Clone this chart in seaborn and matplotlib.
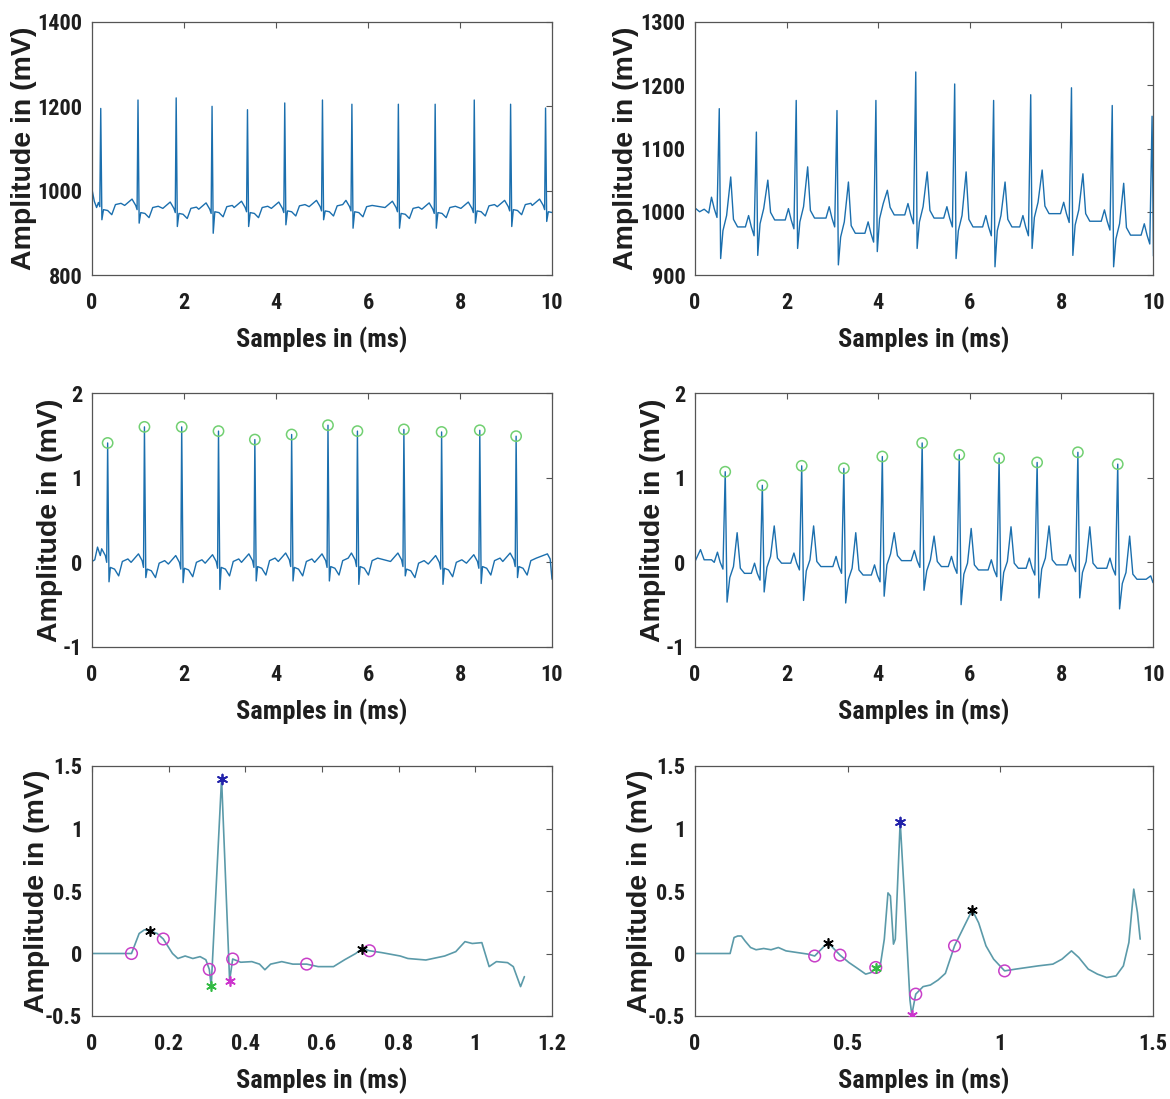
import numpy as np
import matplotlib
matplotlib.use("Agg")
import matplotlib.pyplot as plt
import seaborn as sns
import pandas as pd
from matplotlib import font_manager
from matplotlib.ticker import FuncFormatter

# ---------------- data ----------------
# Panel (1,1): raw ECG record A (mV, 800-1400)
P1_R_TIMES = [0.19, 1.00, 1.83, 2.61, 3.38, 4.19, 5.01, 5.65, 6.66, 7.46, 8.31, 9.10, 9.86]
P1_R_VALS = [1195, 1215, 1220, 1200, 1192, 1208, 1215, 1205, 1205, 1205, 1215, 1205, 1196]
P1_S_VALS = [931, 923, 915, 899, 915, 919, 931, 911, 911, 911, 923, 915, 927]
P1_BASE = [962, 955, 948, 946, 950, 948, 952, 952, 950, 946, 948, 952, 955, 950]
P1_START_T = [0.00, 0.05, 0.10]
P1_START_V = [1003, 975, 960]
P1_PRE_DT = [-0.29, -0.13, -0.05, -0.02]
P1_PRE_DV = [10, 25, 10, 0]
P1_POST_DT = [0.06, 0.15, 0.24, 0.32, 0.44]
P1_POST_DV = [0, -2, -12, 12, 15]

# Panel (1,2): raw ECG record B (mV, 900-1300)
P2_R_TIMES = [0.53, 1.34, 2.21, 3.10, 3.95, 4.82, 5.67, 6.52, 7.33, 8.22, 9.11, 9.98]
P2_R_VALS = [1163, 1126, 1176, 1160, 1176, 1221, 1202, 1176, 1185, 1196, 1168, 1151]
P2_S_VALS = [926, 931, 942, 916, 937, 942, 926, 913, 942, 931, 913, 930]
P2_T_VALS = [1055, 1050, 1071, 1047, 1034, 1063, 1063, 1047, 1066, 1060, 1045, 1040]
P2_BASE = [1005, 976, 987, 990, 966, 995, 990, 976, 976, 997, 985, 963, 960]
P2_START_T = [0.00, 0.10, 0.20, 0.30]
P2_START_V = [1006, 1000, 1004, 998]
P2_PRE_DT = [-0.24, -0.17, -0.11, -0.05]
P2_PRE_DV = [0, 18, 0, -14]
P2_POST_DT = [0.08, 0.16, 0.25, 0.31, 0.40]
P2_POST_DV = [-6, 18, None, 12, 0]

# Panel (2,1): filtered record A with detected R peaks
P3_R_TIMES = [0.34, 1.14, 1.95, 2.75, 3.54, 4.34, 5.13, 5.77, 6.78, 7.60, 8.43, 9.22]
P3_R_VALS = [1.41, 1.60, 1.60, 1.55, 1.45, 1.51, 1.62, 1.55, 1.57, 1.54, 1.56, 1.49]
P3_S_VALS = [-0.23, -0.18, -0.24, -0.32, -0.22, -0.22, -0.22, -0.26, -0.16, -0.26, -0.25, -0.18]
P3_BASE = [0.0, -0.06, -0.08, -0.07, -0.06, -0.05, -0.06, -0.05, -0.05, -0.08, -0.07, -0.05, -0.05]
P3_START_T = [0.00, 0.06, 0.12, 0.18]
P3_START_V = [0.01, 0.03, 0.18, 0.08]
P3_PRE_DT = [-0.29, -0.13, -0.05, -0.02]
P3_PRE_DV = [0.06, 0.16, 0.08, 0.0]
P3_POST_DT = [0.06, 0.15, 0.24, 0.32, 0.44]
P3_POST_DV = [0.0, -0.02, -0.10, 0.07, 0.10]
P3_END_T = [9.90, 9.96, 10.0]
P3_END_V = [0.10, 0.04, -0.20]

# Panel (2,2): filtered record B with detected R peaks
P4_R_TIMES = [0.66, 1.47, 2.33, 3.25, 4.09, 4.96, 5.77, 6.64, 7.47, 8.36, 9.23]
P4_R_VALS = [1.07, 0.91, 1.14, 1.11, 1.25, 1.41, 1.27, 1.23, 1.18, 1.30, 1.16]
P4_S_VALS = [-0.47, -0.35, -0.45, -0.48, -0.40, -0.33, -0.50, -0.45, -0.42, -0.42, -0.55]
P4_T_VALS = [0.35, 0.43, 0.43, 0.35, 0.35, 0.31, 0.40, 0.42, 0.43, 0.42, 0.31]
P4_BASE = [0.0, -0.13, -0.01, -0.05, -0.15, 0.02, -0.05, -0.09, -0.07, -0.03, -0.07, -0.20]
P4_START_T = [0.00, 0.12, 0.20, 0.36]
P4_START_V = [0.01, 0.15, 0.03, 0.03]
P4_PRE_DT = [-0.24, -0.17, -0.11, -0.05]
P4_PRE_DV = [0.0, 0.12, 0.0, -0.08]
P4_POST_DT = [0.10, 0.18, 0.26, 0.33, 0.42]
P4_POST_DV = [-0.05, 0.08, None, 0.06, 0.0]
P4_END_T = [9.85, 9.95, 10.0]
P4_END_V = [-0.20, -0.16, -0.24]

# Panel (3,1): one beat of record A with fiducial points
P5_T = [0.0, 0.103, 0.123, 0.137, 0.152, 0.170, 0.186, 0.21, 0.224, 0.243, 0.263, 0.282, 0.297,
        0.306, 0.311, 0.338, 0.359, 0.367, 0.388, 0.417, 0.437, 0.451, 0.466, 0.495, 0.524,
        0.56, 0.59, 0.63, 0.659, 0.688, 0.705, 0.724, 0.756, 0.804, 0.824, 0.871, 0.92,
        0.949, 0.973, 0.992, 1.017, 1.036, 1.055, 1.084, 1.099, 1.118, 1.128]
P5_V = [0.0, 0.0, 0.16, 0.19, 0.18, 0.16, 0.116, 0.0, -0.04, -0.02, -0.04, -0.025, -0.05,
        -0.127, -0.26, 1.40, -0.217, -0.044, -0.07, -0.065, -0.085, -0.13, -0.085, -0.065, -0.085,
        -0.085, -0.105, -0.105, -0.05, 0.0, 0.04, 0.022, 0.007, -0.02, -0.04, -0.052, -0.02,
        0.015, 0.095, 0.08, 0.087, -0.105, -0.065, -0.073, -0.105, -0.265, -0.185]
P5_ONOFF_T = [0.103, 0.186, 0.306, 0.367, 0.56, 0.724]
P5_ONOFF_V = [0.0, 0.116, -0.127, -0.044, -0.085, 0.022]
P5_PT_T = [0.152, 0.705]
P5_PT_V = [0.18, 0.04]
P5_Q = (0.311, -0.26)
P5_R = (0.338, 1.40)
P5_S = (0.359, -0.217)

# Panel (3,2): one beat of record B with fiducial points
P6_T = [0.0, 0.115, 0.128, 0.14, 0.152, 0.164, 0.182, 0.2, 0.225, 0.249, 0.273, 0.298, 0.334,
        0.37, 0.392, 0.435, 0.475, 0.504, 0.528, 0.559, 0.577, 0.592, 0.607, 0.62, 0.632,
        0.64, 0.65, 0.656, 0.672, 0.686, 0.704, 0.71, 0.723, 0.747, 0.771, 0.796, 0.82,
        0.85, 0.881, 0.908, 0.929, 0.953, 0.978, 1.014, 1.05, 1.087, 1.124, 1.172, 1.202,
        1.233, 1.257, 1.288, 1.318, 1.348, 1.379, 1.403, 1.421, 1.437, 1.449, 1.458]
P6_V = [0.0, 0.0, 0.128, 0.14, 0.14, 0.10, 0.048, 0.03, 0.04, 0.03, 0.048, 0.021, 0.008,
        -0.005, -0.02, 0.088, -0.013, -0.072, -0.112, -0.165, -0.152, -0.112, -0.093, 0.115, 0.485,
        0.46, 0.075, 0.115, 1.055, 0.455, -0.372, -0.49, -0.325, -0.265, -0.252, -0.212, -0.159,
        0.061, 0.215, 0.348, 0.245, 0.061, -0.045, -0.139, -0.125, -0.112, -0.099, -0.085, -0.045,
        0.021, -0.032, -0.125, -0.165, -0.192, -0.179, -0.099, 0.088, 0.515, 0.328, 0.115]
P6_ONOFF_T = [0.392, 0.475, 0.592, 0.723, 0.85, 1.014]
P6_ONOFF_V = [-0.02, -0.013, -0.112, -0.325, 0.061, -0.139]
P6_PT_T = [0.435, 0.908]
P6_PT_V = [0.088, 0.348]
P6_Q = (0.592, -0.112)
P6_R = (0.672, 1.055)
P6_S = (0.71, -0.49)


def build_trace(r_times, r_vals, s_vals, t_vals, base, pre_dt, pre_dv, post_dt, post_dv,
                start_t, start_v, end_t=None, end_v=None, s_dt=0.03):
    xs, ys = list(start_t), list(start_v)

    def add(t, v):
        if t > xs[-1]:
            xs.append(t)
            ys.append(v)

    for i, tr in enumerate(r_times):
        for d, v in zip(pre_dt, pre_dv):
            add(tr + d, base[i] + v)
        add(tr, r_vals[i])
        add(tr + s_dt, s_vals[i])
        for d, v in zip(post_dt, post_dv):
            add(tr + d, t_vals[i] if v is None else base[i + 1] + v)
    if end_t is not None:
        for t, v in zip(end_t, end_v):
            add(t, v)
    else:
        add(10.0, base[-1])
    return pd.DataFrame({"t": xs, "v": ys})


# ---------------- styling ----------------
sns.set_theme(style="white")
avail = {f.name for f in font_manager.fontManager.ttflist}
NARROW = next((f for f in ["Liberation Sans Narrow", "DejaVu Sans Condensed", "Roboto Condensed",
                           "Liberation Sans"] if f in avail), "DejaVu Sans")
WIDE = "Liberation Sans" if "Liberation Sans" in avail else "DejaVu Sans"
plt.rcParams["font.family"] = [NARROW, "DejaVu Sans"]
plt.rcParams["axes.unicode_minus"] = False

TRACE = "#1b6fae"
TRACE_BEAT = "#5b9aa9"
FRAME = "#555555"
TXT = "#1e1e1e"

fig = plt.figure(figsize=(11.70, 10.99), dpi=100)
W, H = 1170.0, 1099.0


def make_ax(l, t, r, b):
    return fig.add_axes([l / W, 1 - b / H, (r - l) / W, (b - t) / H])


axes = [
    make_ax(92, 22, 552, 275), make_ax(695, 22, 1153, 275),
    make_ax(92, 393, 552, 647), make_ax(695, 393, 1153, 647),
    make_ax(92, 766, 552, 1016), make_ax(695, 766, 1153, 1016),
]
ylab_x = [-0.120, -0.122, -0.063, -0.063, -0.091, -0.091]

fmt = FuncFormatter(lambda v, p: "%g" % v)


def style(ax, xlim, xticks, ylim, yticks, lx):
    ax.set_xlim(*xlim)
    ax.set_ylim(*ylim)
    ax.set_xticks(xticks)
    ax.set_yticks(yticks)
    ax.xaxis.set_major_formatter(fmt)
    ax.yaxis.set_major_formatter(fmt)
    ax.tick_params(direction="in", top=True, right=True, length=4, width=0.8,
                   colors=FRAME, labelcolor=TXT, labelsize=16)
    ax.tick_params(axis="x", pad=12.5)
    ax.tick_params(axis="y", pad=7)
    for lab in ax.get_xticklabels() + ax.get_yticklabels():
        lab.set_fontweight("bold")
        lab.set_family([NARROW, "DejaVu Sans"])
    for s in ax.spines.values():
        s.set_color(FRAME)
        s.set_linewidth(0.9)
    ax.set_xlabel("Samples in (ms)", fontsize=19, fontweight="bold", color=TXT,
                  labelpad=9, family=[NARROW, "DejaVu Sans"])
    ax.set_ylabel("Amplitude in (mV)", fontsize=20.5, fontweight="bold", color=TXT,
                  family=[WIDE, "DejaVu Sans"])
    ax.yaxis.set_label_coords(lx, 0.5)
    ax.grid(False)


d1 = build_trace(P1_R_TIMES, P1_R_VALS, P1_S_VALS, None, P1_BASE, P1_PRE_DT, P1_PRE_DV,
                 P1_POST_DT, P1_POST_DV, P1_START_T, P1_START_V, s_dt=0.025)
d2 = build_trace(P2_R_TIMES, P2_R_VALS, P2_S_VALS, P2_T_VALS, P2_BASE, P2_PRE_DT, P2_PRE_DV,
                 P2_POST_DT, P2_POST_DV, P2_START_T, P2_START_V, s_dt=0.03)
d3 = build_trace(P3_R_TIMES, P3_R_VALS, P3_S_VALS, None, P3_BASE, P3_PRE_DT, P3_PRE_DV,
                 P3_POST_DT, P3_POST_DV, P3_START_T, P3_START_V, P3_END_T, P3_END_V, s_dt=0.03)
d4 = build_trace(P4_R_TIMES, P4_R_VALS, P4_S_VALS, P4_T_VALS, P4_BASE, P4_PRE_DT, P4_PRE_DV,
                 P4_POST_DT, P4_POST_DV, P4_START_T, P4_START_V, P4_END_T, P4_END_V, s_dt=0.04)

for ax, d in zip(axes[:4], [d1, d2, d3, d4]):
    sns.lineplot(data=d, x="t", y="v", ax=ax, sort=False, estimator=None,
                 color=TRACE, linewidth=1.0)

# R peak detections (green circles)
for ax, rt, rv in [(axes[2], P3_R_TIMES, P3_R_VALS), (axes[3], P4_R_TIMES, P4_R_VALS)]:
    sns.scatterplot(x=rt, y=rv, ax=ax, marker="o", s=55, facecolors="none",
                    edgecolor="#72d072", linewidth=1.1, zorder=4)

# single beats with fiducial points
ASTER = (6, 2, 0)
beat_sets = [
    (axes[4], P5_T, P5_V, P5_ONOFF_T, P5_ONOFF_V, P5_PT_T, P5_PT_V, P5_Q, P5_R, P5_S),
    (axes[5], P6_T, P6_V, P6_ONOFF_T, P6_ONOFF_V, P6_PT_T, P6_PT_V, P6_Q, P6_R, P6_S),
]
for ax, bt, bv, ot, ov, pt, pv, q, r, s in beat_sets:
    sns.lineplot(x=bt, y=bv, ax=ax, sort=False, estimator=None, color=TRACE_BEAT, linewidth=1.2)
    sns.scatterplot(x=ot, y=ov, ax=ax, marker="o", s=70, facecolors="none",
                    edgecolor="#c83fc8", linewidth=1.1, zorder=4)
    sns.scatterplot(x=pt, y=pv, ax=ax, marker=ASTER, s=45, color="black", linewidth=1.2, zorder=5)
    sns.scatterplot(x=[q[0]], y=[q[1]], ax=ax, marker=ASTER, s=45, color="#33bb44",
                    linewidth=1.2, zorder=5)
    sns.scatterplot(x=[r[0]], y=[r[1]], ax=ax, marker=ASTER, s=50, color="#2222aa",
                    linewidth=1.3, zorder=5)
    sns.scatterplot(x=[s[0]], y=[s[1]], ax=ax, marker=ASTER, s=45, color="#cc33cc",
                    linewidth=1.2, zorder=5)

style(axes[0], (0, 10), [0, 2, 4, 6, 8, 10], (800, 1400), [800, 1000, 1200, 1400], ylab_x[0])
style(axes[1], (0, 10), [0, 2, 4, 6, 8, 10], (900, 1300), [900, 1000, 1100, 1200, 1300], ylab_x[1])
style(axes[2], (0, 10), [0, 2, 4, 6, 8, 10], (-1, 2), [-1, 0, 1, 2], ylab_x[2])
style(axes[3], (0, 10), [0, 2, 4, 6, 8, 10], (-1, 2), [-1, 0, 1, 2], ylab_x[3])
style(axes[4], (0, 1.2), [0, 0.2, 0.4, 0.6, 0.8, 1.0, 1.2], (-0.5, 1.5),
      [-0.5, 0, 0.5, 1, 1.5], ylab_x[4])
style(axes[5], (0, 1.5), [0, 0.5, 1.0, 1.5], (-0.5, 1.5), [-0.5, 0, 0.5, 1, 1.5], ylab_x[5])

for ax in axes:
    leg = ax.get_legend()
    if leg is not None:
        leg.remove()

fig.savefig("out.png", dpi=100, facecolor="white")
